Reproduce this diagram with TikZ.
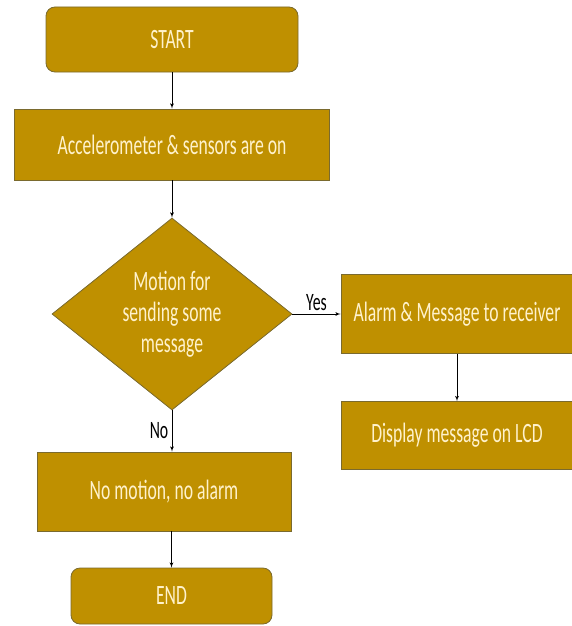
\documentclass[tikz,border=0pt]{standalone}
\usepackage{fontspec}
\setmainfont{Carlito}[FakeStretch=0.63]
\usetikzlibrary{shapes,arrows,positioning}
\definecolor{gold}{HTML}{BF9000}
\definecolor{cream}{HTML}{FFF2CC}
\definecolor{rim}{HTML}{7A6A2E}
\tikzstyle{block} = [rectangle, draw=rim, fill=gold, text=cream, 
    text centered, minimum height=71pt, line width=0.8pt,
    font=\fontsize{28}{31}\selectfont]
\tikzstyle{term} = [block, rounded corners=9pt]
\tikzstyle{decide} = [diamond, draw=rim, fill=gold, text=cream, aspect=1.25,
    align=center, inner sep=0pt, minimum width=240pt, minimum height=192pt,
    line width=0.8pt, font=\fontsize{28}{31}\selectfont]
\tikzstyle{tag} = [font=\fontsize{25}{28}\selectfont, text=black]
\tikzstyle{line} = [draw, line width=0.8pt, -latex']

\begin{document}
\begin{tikzpicture}[auto]
		\useasboundingbox (0,0) rectangle (572pt,-626pt);
		\node [term, minimum width=252pt, minimum height=65pt] (start) at (172pt,-39.5pt) {START};
		\node [block, below of=start, node distance=105pt, minimum width=315pt] (accel) {Accelerometer \& sensors are on};
		\node [decide, below of=accel, node distance=169.5pt] (motion) {Motion for\\sending some\\message};
		\node [block, right of=motion, node distance=285pt, minimum width=232pt, minimum height=79pt] (alarm) {Alarm \& Message to receiver};
		\node [block, below of=alarm, node distance=121.5pt, minimum width=232pt, minimum height=68pt] (lcd) {Display message on LCD};
		\node [block, below of=motion, node distance=177.5pt, xshift=-8pt, minimum width=254pt, minimum height=79pt] (still) {No motion, no alarm};
		\node [term, below of=still, node distance=104.5pt, xshift=7.5pt, minimum width=201pt, minimum height=56pt] (end) {END};
		
		\path [line] (start) -- (accel);
		\path [line] (accel) -- (motion);
		\path [line] (motion) -- node [tag] {Yes} (alarm);
		\path [line] (alarm) -- (lcd);
		\path [line] (motion.south) -- node [tag, swap] {No} (motion.south |- still.north);
		\path [line] (end.north |- still.south) -- (end);
	\end{tikzpicture}
\end{document}
